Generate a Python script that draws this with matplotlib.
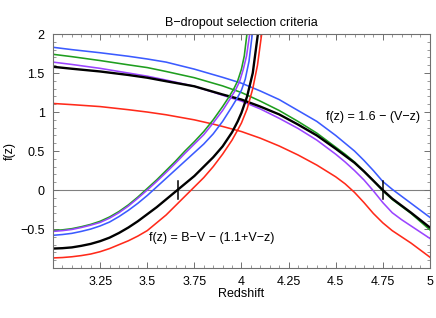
import matplotlib
matplotlib.use("Agg")
import matplotlib.pyplot as plt
from matplotlib.ticker import FixedLocator, MultipleLocator

plt.rcParams['font.family'] = ['Liberation Sans', 'DejaVu Sans']

# descending criterion: f(z) = 1.6 - (V-z)
z_desc = [3.0, 3.1, 3.25, 3.4, 3.5, 3.6, 3.75, 3.85, 3.9, 4.0, 4.1, 4.2, 4.3, 4.4,
          4.5, 4.55, 4.6, 4.65, 4.7, 4.75, 4.8, 4.85, 4.9, 5.0]
desc_blue = [1.83, 1.80, 1.76, 1.715, 1.68, 1.64, 1.55, 1.48, 1.445, 1.37, 1.27, 1.16, 1.02, 0.88,
             0.70, 0.60, 0.50, 0.38, 0.25, 0.11, 0.01, -0.08, -0.17, -0.35]
desc_green = [1.74, 1.71, 1.66, 1.605, 1.57, 1.52, 1.44, 1.37, 1.335, 1.25, 1.14, 1.02, 0.88, 0.73,
              0.55, 0.46, 0.36, 0.24, 0.12, -0.01, -0.12, -0.21, -0.30, -0.51]
desc_purple = [1.64, 1.61, 1.56, 1.50, 1.46, 1.41, 1.33, 1.255, 1.215, 1.14, 1.04, 0.92, 0.79, 0.64,
               0.46, 0.36, 0.25, 0.13, -0.01, -0.16, -0.29, -0.38, -0.46, -0.62]
desc_red = [1.11, 1.095, 1.07, 1.03, 1.00, 0.965, 0.90, 0.845, 0.815, 0.75, 0.665, 0.565, 0.45, 0.32,
            0.17, 0.08, -0.03, -0.16, -0.30, -0.42, -0.52, -0.60, -0.68, -0.86]
desc_black = [1.58, 1.555, 1.52, 1.475, 1.44, 1.395, 1.33, 1.26, 1.225, 1.16, 1.07, 0.97, 0.84, 0.70,
              0.53, 0.44, 0.35, 0.24, 0.12, 0.0, -0.11, -0.20, -0.29, -0.48]

# ascending criterion: f(z) = B-V - (1.1+V-z)
z_asc = [3.0, 3.05, 3.1, 3.15, 3.2, 3.25, 3.3, 3.35, 3.4, 3.45, 3.5, 3.55, 3.6, 3.65,
         3.7, 3.75, 3.8, 3.85, 3.9]
asc_green = [-0.52, -0.51, -0.495, -0.47, -0.44, -0.40, -0.345, -0.275, -0.19, -0.09, 0.02, 0.13, 0.25, 0.37,
             0.50, 0.62, 0.75, 0.90, 1.07]
asc_purple = [-0.53, -0.52, -0.505, -0.48, -0.45, -0.415, -0.36, -0.29, -0.205, -0.105, 0.0, 0.11, 0.225, 0.345,
              0.47, 0.59, 0.71, 0.86, 1.02]
asc_blue = [-0.58, -0.57, -0.555, -0.53, -0.50, -0.46, -0.41, -0.34, -0.26, -0.17, -0.07, 0.04, 0.15, 0.26,
            0.37, 0.48, 0.59, 0.72, 0.88]
asc_black = [-0.75, -0.745, -0.735, -0.715, -0.69, -0.655, -0.61, -0.55, -0.48, -0.40, -0.31, -0.22, -0.12, -0.02,
             0.08, 0.18, 0.30, 0.42, 0.56]
asc_red = [-0.87, -0.865, -0.855, -0.84, -0.82, -0.79, -0.75, -0.70, -0.65, -0.59, -0.52, -0.42, -0.32, -0.20,
           -0.08, 0.04, 0.16, 0.30, 0.46]
# steep upper ends, past z = 3.9
z_top_green = [3.93, 3.96, 3.98, 4.0, 4.015, 4.03]
top_green = [1.18, 1.30, 1.40, 1.55, 1.72, 2.02]
z_top_purple = [3.94, 3.97, 3.99, 4.01, 4.027, 4.045]
top_purple = [1.17, 1.29, 1.39, 1.55, 1.72, 2.02]
z_top_blue = [3.95, 3.98, 4.0, 4.02, 4.04, 4.06]
top_blue = [1.07, 1.19, 1.28, 1.42, 1.65, 2.05]
z_top_black = [3.95, 3.98, 4.0, 4.03, 4.06, 4.09]
top_black = [0.74, 0.88, 0.99, 1.20, 1.50, 2.05]
z_top_red = [3.95, 3.98, 4.0, 4.03, 4.06, 4.085, 4.11]
top_red = [0.64, 0.77, 0.86, 1.04, 1.30, 1.60, 2.05]

# redshift where the black curves cross zero
z_marks = [3.665, 4.75]

xticks = [3.25, 3.5, 3.75, 4.0, 4.25, 4.5, 4.75, 5.0]
xlabels = ['3.25', '3.5', '3.75', '4', '4.25', '4.5', '4.75', '5']
yticks = [-0.5, 0.0, 0.5, 1.0, 1.5, 2.0]
ylabels = ['\u22120.5', '0', '0.5', '1', '1.5', '2']

fig = plt.figure(figsize=(4.36, 3.18), dpi=100)
ax = fig.add_axes([0.1216, 0.157, 0.8644, 0.736])

blue, green, purple, red = '#3b5bff', '#1f9e1f', '#9b45ff', '#ff2a1a'

ax.axhline(0, color='#808080', lw=0.8, zorder=1)

ax.plot(z_desc, desc_blue, color=blue, lw=1.15)
ax.plot(z_desc, desc_green, color=green, lw=1.15)
ax.plot(z_desc, desc_purple, color=purple, lw=1.15)
ax.plot(z_desc, desc_red, color=red, lw=1.15)
ax.plot(z_desc, desc_black, color='black', lw=1.7)

ax.plot(z_asc + z_top_green, asc_green + top_green, color=green, lw=1.15)
ax.plot(z_asc + z_top_purple, asc_purple + top_purple, color=purple, lw=1.15)
ax.plot(z_asc + z_top_blue, asc_blue + top_blue, color=blue, lw=1.15)
ax.plot(z_asc + z_top_red, asc_red + top_red, color=red, lw=1.15)
ax.plot(z_asc + z_top_black, asc_black + top_black, color='black', lw=1.7)

for zm in z_marks:
    ax.plot([zm, zm], [-0.12, 0.11], color='black', lw=1.1)

ax.text(4.95, 0.94, 'f(z) = 1.6 \u2212 (V\u2212z)', ha='right', va='center', fontsize=9)
ax.text(3.51, -0.62, 'f(z) = B\u2212V \u2212 (1.1+V\u2212z)', ha='left', va='center', fontsize=9)

ax.set_xlim(3.0, 5.0)
ax.set_ylim(-1.0, 2.0)
ax.xaxis.set_major_locator(FixedLocator(xticks))
ax.set_xticklabels(xlabels)
ax.yaxis.set_major_locator(FixedLocator(yticks))
ax.set_yticklabels(ylabels)
ax.xaxis.set_minor_locator(MultipleLocator(0.05))
ax.yaxis.set_minor_locator(MultipleLocator(0.1))
ax.tick_params(which='both', direction='in', top=True, right=True, color='#707070', labelsize=9, pad=6)
ax.tick_params(which='major', length=4, width=0.7)
ax.tick_params(which='minor', length=2, width=0.5)
for sp in ax.spines.values():
    sp.set_color('#707070')
    sp.set_linewidth(0.8)

ax.set_title('B\u2212dropout selection criteria', fontsize=9, pad=6)
ax.set_xlabel('Redshift', fontsize=9, labelpad=0)
ax.set_ylabel('f(z)', fontsize=9, labelpad=3)

fig.savefig('out.png', dpi=100)
